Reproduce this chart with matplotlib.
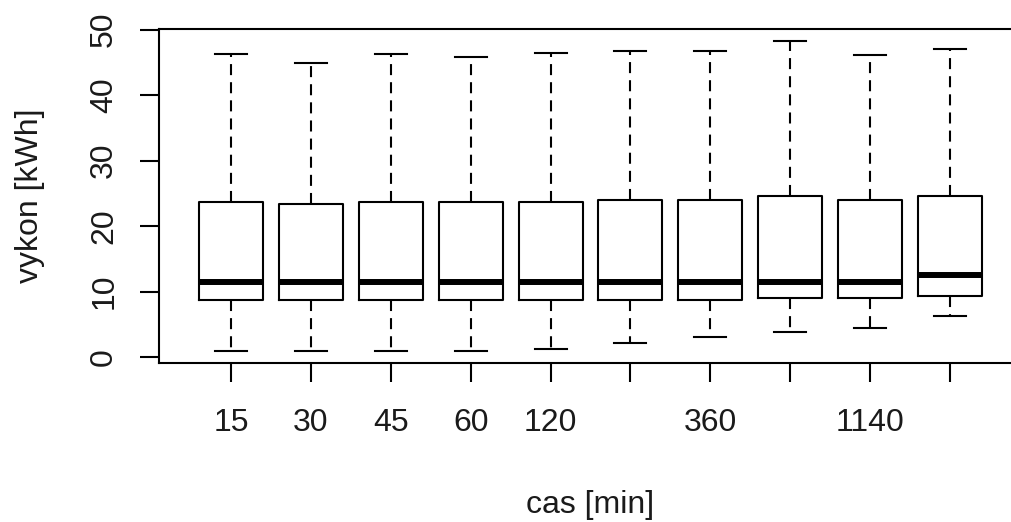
import matplotlib
matplotlib.use("Agg")
import matplotlib.pyplot as plt

plt.rcParams['font.family'] = ['Liberation Sans', 'DejaVu Sans']

# interval lengths [min]; some labels are left blank on the axis
intervals = ['15', '30', '45', '60', '120', '', '360', '', '1140', '']

# five-number summaries per interval, vykon [kWh]
whisker_lo = [1.0, 1.0, 1.0, 1.0, 1.2, 2.2, 3.1, 3.8, 4.4, 6.3]
q1 = [8.7, 8.7, 8.7, 8.7, 8.7, 8.7, 8.7, 9.1, 9.1, 9.4]
medians = [11.5, 11.5, 11.5, 11.5, 11.5, 11.5, 11.5, 11.5, 11.5, 12.5]
q3 = [23.7, 23.4, 23.7, 23.7, 23.7, 24.0, 24.0, 24.6, 24.0, 24.6]
whisker_hi = [46.2, 44.9, 46.2, 45.8, 46.4, 46.7, 46.7, 48.2, 46.1, 47.0]

stats = []
for i in range(len(intervals)):
    stats.append({
        'whislo': whisker_lo[i], 'q1': q1[i], 'med': medians[i],
        'q3': q3[i], 'whishi': whisker_hi[i], 'fliers': [],
    })

fig = plt.figure(figsize=(10.12, 5.22), dpi=100)
ax = fig.add_axes([159 / 1012, 159 / 522, 863 / 1012, 334 / 522])

positions = list(range(1, len(intervals) + 1))
lw = 1.5
ax.bxp(stats, positions=positions, widths=0.8, showfliers=False,
       boxprops=dict(color='black', linewidth=lw),
       medianprops=dict(color='black', linewidth=4.3, solid_capstyle='butt'),
       whiskerprops=dict(color='black', linewidth=lw, linestyle=(0, (5.3, 3.4))),
       capprops=dict(color='black', linewidth=lw),
       capwidths=0.4)

n = len(intervals)
ax.set_xlim(0.5 - 0.04 * n, n + 0.5 + 0.04 * n)
lo, hi = min(whisker_lo), max(whisker_hi)
pad = 0.04 * (hi - lo)
ax.set_ylim(lo - pad, hi + pad)

ax.set_xticks(positions)
ax.set_xticklabels(intervals)
ax.set_yticks([0, 10, 20, 30, 40, 50])

for side in ['top', 'right', 'bottom', 'left']:
    ax.spines[side].set_linewidth(lw)

ax.tick_params(axis='both', direction='out', length=13.7, width=lw,
               labelsize=23, colors='black', labelcolor='#1a1a1a')
ax.tick_params(axis='x', pad=18.5)
ax.tick_params(axis='y', pad=15)
plt.setp(ax.get_yticklabels(), rotation=90, va='center')

ax.set_xlabel('cas [min]', fontsize=23, color='#1a1a1a')
ax.set_ylabel('vykon [kWh]', fontsize=23, color='#1a1a1a')
ax.xaxis.set_label_coords(0.5, -0.425)
ax.xaxis.label.set_va('center')
ax.yaxis.set_label_coords(-0.1495, 0.5)
ax.yaxis.label.set_va('center')

fig.savefig('out.png', dpi=100)
